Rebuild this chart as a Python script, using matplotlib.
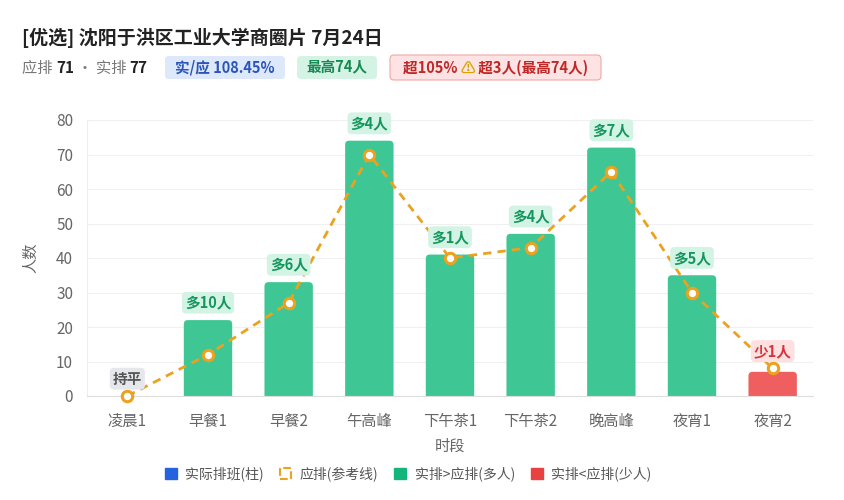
import matplotlib
matplotlib.use("Agg")
import matplotlib.pyplot as plt
from matplotlib.patches import FancyBboxPatch, Patch
import numpy as np

FONTS = ["Noto Sans CJK SC", "DejaVu Sans"]
plt.rcParams["font.family"] = FONTS

W, H = 845, 500

slots = ["凌晨1", "早餐1", "早餐2", "午高峰", "下午茶1", "下午茶2", "晚高峰", "夜宵1", "夜宵2"]
actual = [0, 22, 33, 74, 41, 47, 72, 35, 7]
expected = [0, 12, 27, 70, 40, 43, 65, 30, 8]

title = "[优选] 沈阳于洪区工业大学商圈片 7月24日"
plan_total = 71
real_total = 77
ratio_txt = "实/应 108.45%"
peak_txt = "最高74人"
warn_parts = ["超105% ", "⚠", " 超3人(最高74人)"]

GREEN = "#3ec795"
RED = "#ef5f5f"
ORANGE = "#eba21f"
GRAY = "#666666"


def place_runs(fig, x, y, parts, size):
    """parts: (text, color, weight); x,y in pixels from top-left; returns end x"""
    r = fig.canvas.get_renderer()
    for s, color, weight in parts:
        t = fig.text(x / W, 1 - y / H, s, color=color, fontsize=size,
                     fontweight=weight, va="center", ha="left")
        x += t.get_window_extent(r).width
    return x


def badge(fig, x0, x1, y0, y1, parts, face, edge, size):
    box = FancyBboxPatch((x0 / 100, (H - y1) / 100), (x1 - x0) / 100, (y1 - y0) / 100,
                         boxstyle="round,pad=0,rounding_size=0.04",
                         transform=fig.dpi_scale_trans, fc=face, ec=edge, lw=0.8)
    fig.patches.append(box)
    r = fig.canvas.get_renderer()
    texts = []
    for s, color, weight in parts:
        t = fig.text(0, 1 - (y0 + y1) / 2 / H, s, color=color, fontsize=size,
                     fontweight=weight, va="center", ha="left")
        texts.append(t)
    ws = [t.get_window_extent(r).width for t in texts]
    x = (x0 + x1) / 2 - sum(ws) / 2
    for t, w in zip(texts, ws):
        t.set_x(x / W)
        x += w


fig = plt.figure(figsize=(W / 100, H / 100), dpi=100)
ax = fig.add_axes([87 / W, 1 - 396 / H, (813 - 87) / W, (396 - 120) / H])
ax.set_xlim(-0.5, len(slots) - 0.5)
ax.set_ylim(0, 80)

x = np.arange(len(slots))
cols = [RED if a < e else GREEN for a, e in zip(actual, expected)]
bars = ax.bar(x, actual, width=0.6, color=cols, zorder=2)
# rounded tops: swap each rectangle for a rounded box; the lower corners
# hang below y=0 and get clipped by the axes
aspect = (80 / 276) / (len(slots) / 726)
for rect, c in zip(bars, cols):
    bx, by, bw, bh = rect.get_x(), rect.get_y(), rect.get_width(), rect.get_height()
    rect.set_visible(False)
    if bh <= 0:
        continue
    ax.add_patch(FancyBboxPatch((bx, by - 3), bw, bh + 3,
                                boxstyle="round,pad=0,rounding_size=0.05",
                                mutation_aspect=aspect, fc=c, ec="none", zorder=2))

ax.plot(x, expected, color=ORANGE, lw=2, ls=(0, (3, 2.2)), marker="o", ms=7.5,
        mfc="white", mec=ORANGE, mew=2.2, zorder=3, clip_on=False)

for i, (a, e) in enumerate(zip(actual, expected)):
    d = a - e
    if d > 0:
        s, tc, bg = f"多{d}人", "#16965f", "#d3f4e5"
    elif d < 0:
        s, tc, bg = f"少{-d}人", "#d8333a", "#fde0e0"
    else:
        s, tc, bg = "持平", "#555555", "#e6e7ec"
    ax.annotate(s, (i, max(a, e)), xytext=(0, 12.5), textcoords="offset points",
                ha="center", va="center", fontsize=10.5, fontweight="bold", color=tc,
                bbox=dict(boxstyle="round,pad=0.2,rounding_size=0.3", fc=bg, ec="none"),
                zorder=4, annotation_clip=False)

ax.set_yticks(range(0, 81, 10))
ax.set_xticks(x)
ax.set_xticklabels(slots)
ax.tick_params(colors=GRAY, labelsize=11, length=0)
ax.tick_params(axis="x", pad=12)
ax.tick_params(axis="y", pad=10)
ax.grid(axis="y", color="#f0f0f0", lw=0.8, zorder=0)
for side in ["top", "right"]:
    ax.spines[side].set_visible(False)
ax.spines["left"].set_color("#eeeeee")
ax.spines["bottom"].set_color("#dddddd")
ax.spines["bottom"].set_zorder(2.5)
ax.set_ylabel("人数", color=GRAY, fontsize=11, labelpad=12)
ax.set_xlabel("时段", color=GRAY, fontsize=11, labelpad=6)

fig.text(22 / W, 1 - 38 / H, title, fontsize=13.7, fontweight="bold",
         color="#222222", va="center", ha="left")
place_runs(fig, 22, 68, [("应排 ", "#777777", "normal"), (str(plan_total), "#222222", "bold"),
                         (" · 实排 ", "#777777", "normal"), (str(real_total), "#222222", "bold")], 11)
badge(fig, 165, 285, 56, 79, [(ratio_txt, "#2b55b8", "bold")], "#dde8fb", "none", 10.5)
badge(fig, 297, 377, 56, 79, [(peak_txt, "#168a55", "bold")], "#d5f3e4", "none", 10.5)
badge(fig, 390, 601, 55, 80, [(warn_parts[0], "#c02828", "bold"),
                              (warn_parts[1], "#d9a400", "bold"),
                              (warn_parts[2], "#c02828", "bold")], "#fde3e3", "#f0a8a8", 10.5)

handles = [Patch(fc="#2462e0", ec="#2462e0"),
           Patch(fc="none", ec=ORANGE, ls="--", lw=1.5),
           Patch(fc="#13b57a", ec="#13b57a"),
           Patch(fc="#e84141", ec="#e84141")]
labels = ["实际排班(柱)", "应排(参考线)", "实排>应排(多人)", "实排<应排(少人)"]
fig.legend(handles, labels, loc="center", bbox_to_anchor=(408 / W, 1 - 474 / H),
           ncol=4, frameon=False, fontsize=10, labelcolor="#555555",
           handlelength=0.85, handleheight=0.85, handletextpad=0.6, columnspacing=1.15)

fig.savefig("out.png", dpi=100)
